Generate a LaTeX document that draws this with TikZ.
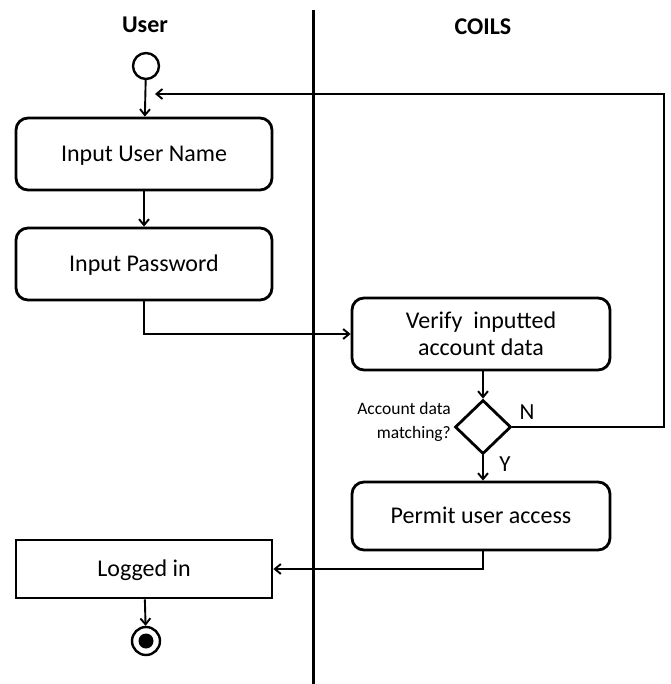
\documentclass[tikz,border=0pt]{standalone}
\usepackage{fontspec}
\setmainfont{Carlito}
\usetikzlibrary{arrows.meta,shapes.geometric}
\begin{document}
\begin{tikzpicture}[x=1pt,y=-1pt,
  act/.style={draw,line width=2.8pt,rounded corners=12pt,minimum width=256pt,minimum height=72pt,inner sep=0pt,align=center,font=\fontsize{24}{27}\selectfont},
  sq/.style={draw,line width=2.8pt,minimum width=256pt,minimum height=58pt,inner sep=0pt,font=\fontsize{24}{27}\selectfont},
  capc/.style={text height=15.5pt,text depth=0pt},
  flow/.style={line width=1.9pt,-{Straight Barb[length=6pt,width=10pt]}},
  lane/.style={font=\bfseries\fontsize{24}{27}\selectfont},
  lbl/.style={font=\fontsize{23}{27}\selectfont}]
\useasboundingbox (0,0) rectangle (670,684);
\node[lane] (tu) at (145,25) {User};
\node[lane] (tc) at (483,27) {COILS};
\coordinate (lt) at (313,10);
\coordinate (lb) at (313,684);
\draw[line width=3pt] (lt) -- (lb);
\node[circle,draw,line width=2.4pt,minimum size=26pt,inner sep=0pt] (start) at (146,66) {};
\node[act,capc] (name) at (144,154) {Input User Name};
\node[act,capc] (pass) at (144,264) {Input Password};
\node[act,minimum width=258pt] (ver) at (481,334) {Verify\ \ inputted\\account data};
\node[diamond,draw,line width=2.8pt,minimum width=56pt,minimum height=54pt,inner sep=0pt] (dec) at (483,427) {};
\node[align=right,anchor=east,font=\fontsize{17.5}{23.5}\selectfont,inner sep=0pt] (q) at (451,422) {Account data\\matching?};
\node[act,capc,minimum width=258pt,minimum height=68pt] (perm) at (481,516) {Permit user access};
\node[sq,capc] (log) at (144,569) {Logged in};
\node[circle,draw,line width=2.4pt,minimum size=28pt,inner sep=0pt] (end) at (146,641) {};
\node[circle,fill,minimum size=15pt,inner sep=0pt] (endin) at (146,641) {};
\node[lbl] (n) at (527,412) {N};
\node[lbl] (y) at (505,464) {Y};
\coordinate (ret) at (155,94);
\draw[flow] (start) -- (name);
\draw[flow] (name) -- (pass);
\draw[flow] (pass.south) |- (ver.west);
\draw[flow] (ver.south -| dec.north) -- (dec.north);
\draw[flow] (dec.south) -- (perm.north -| dec.south);
\draw[flow] (perm.south -| dec.south) |- (log.east);
\draw[flow] (log) -- (end);
\draw[flow] (dec.east) -- (664,427) -- (664,94) -- (ret);
\end{tikzpicture}
\end{document}
